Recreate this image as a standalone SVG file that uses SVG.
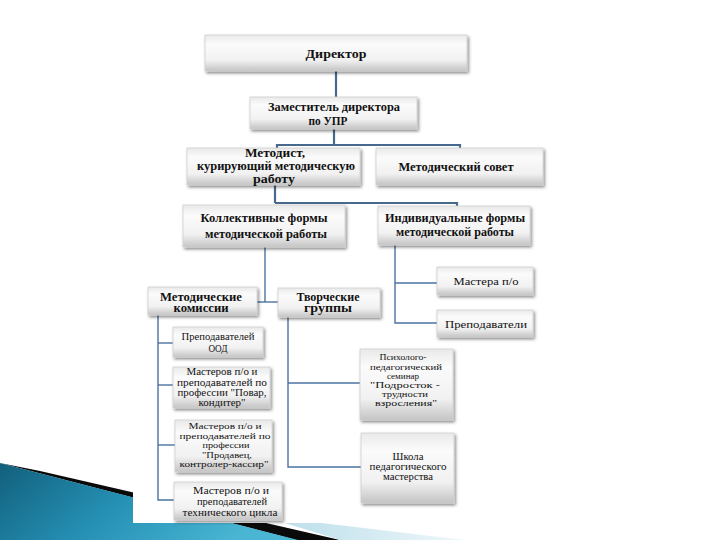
<svg xmlns="http://www.w3.org/2000/svg" width="720" height="540" viewBox="0 0 720 540">
<defs>
  <linearGradient id="boxFill" x1="0" y1="0" x2="0" y2="1">
    <stop offset="0" stop-color="#e9e9e9"/>
    <stop offset="0.25" stop-color="#fbfbfb"/>
    <stop offset="0.7" stop-color="#f1f1f1"/>
    <stop offset="1" stop-color="#c4c4c4"/>
  </linearGradient>
  <linearGradient id="teal" x1="0" y1="0" x2="1" y2="0.3">
    <stop offset="0" stop-color="#125f7c"/>
    <stop offset="0.5" stop-color="#2590b4"/>
    <stop offset="1" stop-color="#4ab6d4"/>
  </linearGradient>
  <linearGradient id="lightblue" x1="0" y1="0" x2="1" y2="0">
    <stop offset="0" stop-color="#b7dce9"/>
    <stop offset="1" stop-color="#eef7fa"/>
  </linearGradient>
  <filter id="shadow" x="-10%" y="-20%" width="120%" height="150%">
    <feDropShadow dx="1.5" dy="2" stdDeviation="1.4" flood-color="#000" flood-opacity="0.45"/>
  </filter>
</defs>
<style>
  .box { fill: url(#boxFill); stroke: #cfcfcf; stroke-width: 0.8; filter: url(#shadow); }
  text { font-family: "Liberation Serif", "DejaVu Serif", serif; fill: #111; text-anchor: middle; }
  .b { font-weight: bold; font-size: 11.5px; }
  .n { font-size: 10.5px; }
  .s { font-size: 8.8px; }
  .c1 { fill: none; stroke: #46698d; stroke-width: 2.2; }
  .c2 { fill: none; stroke: #4a73a0; stroke-width: 1.4; }
</style>
<rect width="720" height="540" fill="#ffffff"/>
<g id="decoration">
  <polygon points="40,471 340,540 296,540 0,463" fill="#0a0a0a"/>
  <polygon points="0,463 298,540 0,540" fill="url(#teal)"/>
  <polygon points="262,516 465,540 340,540" fill="url(#lightblue)"/>
  <rect x="133" y="20" width="440" height="503" fill="#ffffff"/>
</g>
<g id="connectors">
  <path class="c1" d="M336,71 V97"/>
  <path class="c1" d="M334,129 V145"/>
  <path class="c1" d="M277,148 V145 H460 V148"/>
  <path class="c1" d="M275,185 V203"/>
  <path class="c1" d="M275,203 H457 V206"/>
  <path class="c2" d="M265,247 V302"/>
  <path class="c2" d="M257,302 H278"/>
  <path class="c2" d="M395,245 V323 H437"/>
  <path class="c2" d="M395,283 H437"/>
  <path class="c2" d="M158,315 V500 H174"/>
  <path class="c2" d="M158,343 H173"/>
  <path class="c2" d="M158,385 H173"/>
  <path class="c2" d="M158,445 H175"/>
  <path class="c2" d="M288,317 V467 H361"/>
  <path class="c2" d="M288,383 H360"/>
</g>
<g id="director">
  <rect class="box" x="205" y="35" width="262" height="36"/>
  <text class="b" x="336" y="58" font-size="14" textLength="61" lengthAdjust="spacingAndGlyphs">Директор</text>
</g>
<g id="deputy">
  <rect class="box" x="250" y="97" width="167" height="32"/>
  <text class="b" x="334" y="111" textLength="132" lengthAdjust="spacingAndGlyphs">Заместитель директора</text>
  <text class="b" x="328" y="125" textLength="39" lengthAdjust="spacingAndGlyphs">по УПР</text>
</g>
<g id="metodist">
  <rect class="box" x="187" y="148" width="173" height="37"/>
  <text class="b" x="275" y="157" textLength="60" lengthAdjust="spacingAndGlyphs">Методист,</text>
  <text class="b" x="276" y="170" textLength="158" lengthAdjust="spacingAndGlyphs">курирующий  методическую</text>
  <text class="b" x="274" y="183" textLength="42" lengthAdjust="spacingAndGlyphs">работу</text>
</g>
<g id="sovet">
  <rect class="box" x="376" y="148" width="167" height="37"/>
  <text class="b" x="456" y="171" font-size="12" textLength="115" lengthAdjust="spacingAndGlyphs">Методический совет</text>
</g>
<g id="kollektivnye">
  <rect class="box" x="183" y="205" width="162" height="42"/>
  <text class="b" x="264" y="222" font-size="12" textLength="127" lengthAdjust="spacingAndGlyphs">Коллективные формы</text>
  <text class="b" x="266" y="238" font-size="12" textLength="122" lengthAdjust="spacingAndGlyphs">методической работы</text>
</g>
<g id="individualnye">
  <rect class="box" x="378" y="206" width="152" height="39"/>
  <text class="b" x="455" y="222" textLength="140" lengthAdjust="spacingAndGlyphs">Индивидуальные формы</text>
  <text class="b" x="455" y="236" textLength="118" lengthAdjust="spacingAndGlyphs">методической работы</text>
</g>
<g id="mastera">
  <rect class="box" x="437" y="267" width="96" height="28"/>
  <text class="n" x="486" y="285" font-size="11" textLength="65" lengthAdjust="spacingAndGlyphs">Мастера п/о</text>
</g>
<g id="prepodavateli">
  <rect class="box" x="437" y="310" width="96" height="27"/>
  <text class="n" x="486" y="328" font-size="11" textLength="82" lengthAdjust="spacingAndGlyphs">Преподаватели</text>
</g>
<g id="metkomissii">
  <rect class="box" x="148" y="287" width="109" height="28"/>
  <text class="b" x="201" y="301" font-size="12.5" textLength="82" lengthAdjust="spacingAndGlyphs">Методические</text>
  <text class="b" x="201" y="312" font-size="9.5" textLength="55" lengthAdjust="spacingAndGlyphs">комиссии</text>
</g>
<g id="tvorcheskie">
  <rect class="box" x="278" y="288" width="102" height="29"/>
  <text class="b" x="328" y="301" font-size="12" textLength="63" lengthAdjust="spacingAndGlyphs">Творческие</text>
  <text class="b" x="328" y="312" font-size="9.5" textLength="48" lengthAdjust="spacingAndGlyphs">группы</text>
</g>
<g id="ood">
  <rect class="box" x="173" y="327" width="90" height="30"/>
  <text class="n" x="218" y="340" textLength="73" lengthAdjust="spacingAndGlyphs">Преподавателей</text>
  <text class="n" x="218" y="352" textLength="19" lengthAdjust="spacingAndGlyphs">ООД</text>
</g>
<g id="povar">
  <rect class="box" x="173" y="367" width="97" height="41"/>
  <text class="n" x="222" y="375" textLength="71" lengthAdjust="spacingAndGlyphs">Мастеров  п/о и</text>
  <text class="n" x="222" y="386" textLength="90" lengthAdjust="spacingAndGlyphs">преподавателей   по</text>
  <text class="n" x="222" y="396" textLength="89" lengthAdjust="spacingAndGlyphs">профессии  "Повар,</text>
  <text class="n" x="222" y="406" textLength="47" lengthAdjust="spacingAndGlyphs">кондитер"</text>
</g>
<g id="prodavec">
  <rect class="box" x="175" y="420" width="97" height="52"/>
  <text class="s" x="225" y="429" font-size="9.2" textLength="73" lengthAdjust="spacingAndGlyphs">Мастеров  п/о и</text>
  <text class="s" x="225" y="438.5" font-size="9.2" textLength="91" lengthAdjust="spacingAndGlyphs">преподавателей   по</text>
  <text class="s" x="226" y="448" font-size="9.2" textLength="47" lengthAdjust="spacingAndGlyphs">профессии</text>
  <text class="s" x="227" y="457.5" font-size="9.2" textLength="50" lengthAdjust="spacingAndGlyphs">"Продавец,</text>
  <text class="s" x="224" y="467" font-size="9.2" textLength="89" lengthAdjust="spacingAndGlyphs">контролер-кассир"</text>
</g>
<g id="tehnicheskiy">
  <rect class="box" x="174" y="482" width="108" height="38"/>
  <text class="n" x="231" y="494" textLength="76" lengthAdjust="spacingAndGlyphs">Мастеров  п/о и</text>
  <text class="n" x="232" y="505" textLength="70" lengthAdjust="spacingAndGlyphs">преподавателей</text>
  <text class="n" x="230" y="516" textLength="95" lengthAdjust="spacingAndGlyphs">технического   цикла</text>
</g>
<g id="seminar">
  <rect class="box" x="360" y="349" width="93" height="71"/>
  <text class="s" x="403" y="360" textLength="47" lengthAdjust="spacingAndGlyphs">Психолого-</text>
  <text class="s" x="406" y="369.5" textLength="72" lengthAdjust="spacingAndGlyphs">педагогический</text>
  <text class="s" x="403" y="378.5" font-size="8" textLength="32" lengthAdjust="spacingAndGlyphs">семинар</text>
  <text class="s" x="405" y="388" textLength="70" lengthAdjust="spacingAndGlyphs">"Подросток  -</text>
  <text class="s" x="405" y="397" textLength="46" lengthAdjust="spacingAndGlyphs">трудности</text>
  <text class="s" x="406" y="406" textLength="62" lengthAdjust="spacingAndGlyphs">взросления"</text>
</g>
<g id="shkola">
  <rect class="box" x="361" y="433" width="93" height="70"/>
  <text class="n" x="408" y="460" textLength="31" lengthAdjust="spacingAndGlyphs">Школа</text>
  <text class="n" x="408" y="470" textLength="77" lengthAdjust="spacingAndGlyphs">педагогического</text>
  <text class="n" x="408" y="480" textLength="50" lengthAdjust="spacingAndGlyphs">мастерства</text>
</g>
</svg>
